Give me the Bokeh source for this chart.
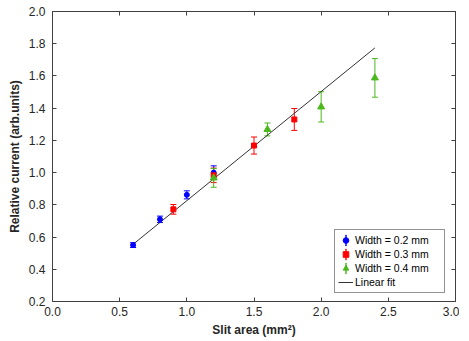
import math
from bokeh.plotting import figure
from bokeh.models import (ColumnDataSource, Whisker, TeeHead, LinearAxis, Legend,
                          LegendItem, Range1d, FixedTicker, PrintfTickFormatter,
                          CustomJSTickFormatter)
from bokeh.embed import file_html
from bokeh.resources import INLINE

# Data
x_w02 = [0.6, 0.8, 1.0, 1.2]
y_w02 = [0.550, 0.710, 0.862, 1.000]
e_w02 = [0.015, 0.020, 0.025, 0.042]

x_w03 = [0.9, 1.2, 1.5, 1.8]
y_w03 = [0.772, 0.983, 1.168, 1.330]
e_w03 = [0.030, 0.045, 0.053, 0.068]

x_w04 = [1.2, 1.6, 2.0, 2.4]
y_w04 = [0.967, 1.268, 1.408, 1.588]
e_w04 = [0.058, 0.040, 0.094, 0.120]

fit_x = [0.6, 2.4]
fit_y = [0.555, 1.774]

x_ticks = [0.0, 0.5, 1.0, 1.5, 2.0, 2.5, 3.0]
y_ticks = [0.2, 0.4, 0.6, 0.8, 1.0, 1.2, 1.4, 1.6, 1.8, 2.0]

FONT = "Liberation Sans"
BLUE = "#0000ff"
RED = "#ff0000"
GREEN = "#4cb81c"

p = figure(frame_width=403, frame_height=290, output_backend="svg", toolbar_location=None,
           x_range=Range1d(0, 3), y_range=Range1d(0.2, 2.0),
           min_border_left=52, min_border_right=4, min_border_top=11, min_border_bottom=34)
p.xgrid.visible = False
p.ygrid.visible = False
p.outline_line_color = "#404040"
p.outline_line_width = 1
p.background_fill_color = "white"
p.border_fill_color = "white"

def style_axis(ax):
    ax.major_tick_in = 4
    ax.major_tick_out = 0
    ax.minor_tick_line_color = None
    ax.axis_line_color = "#404040"
    ax.major_tick_line_color = "#404040"
    ax.major_label_text_font = FONT
    ax.major_label_text_font_size = "12px"
    ax.major_label_text_color = "#262626"
    ax.axis_label_text_font = FONT
    ax.axis_label_text_font_size = "12px"
    ax.axis_label_text_font_style = "bold"
    ax.axis_label_text_color = "#262626"

p.xaxis.ticker = FixedTicker(ticks=x_ticks)
p.yaxis.ticker = FixedTicker(ticks=y_ticks)
p.xaxis.formatter = PrintfTickFormatter(format="%.1f")
p.yaxis.formatter = PrintfTickFormatter(format="%.1f")
style_axis(p.xaxis[0])
style_axis(p.yaxis[0])
p.xaxis.axis_label = "Slit area (mm²)"
p.yaxis.axis_label = "Relative current (arb.units)"
p.xaxis.major_label_standoff = 5
p.yaxis.major_label_standoff = 7
p.xaxis.axis_label_standoff = 4
p.yaxis.axis_label_standoff = 4

blank = CustomJSTickFormatter(code="return ''")
ax_top = LinearAxis(ticker=FixedTicker(ticks=x_ticks), formatter=blank)
style_axis(ax_top)
ax_top.major_label_text_font_size = "1px"
ax_top.major_label_standoff = 0
p.add_layout(ax_top, "above")
ax_right = LinearAxis(ticker=FixedTicker(ticks=y_ticks), formatter=blank)
style_axis(ax_right)
ax_right.major_label_text_font_size = "1px"
ax_right.major_label_standoff = 0
p.add_layout(ax_right, "right")

# Linear fit
fit_r = p.line(fit_x, fit_y, line_color="#333333", line_width=1)

def series(xs, ys, es, color, marker, size):
    src = ColumnDataSource(dict(x=xs, y=ys,
                                lo=[a - b for a, b in zip(ys, es)],
                                hi=[a + b for a, b in zip(ys, es)]))
    w = Whisker(source=src, base="x", lower="lo", upper="hi",
                line_color=color, line_width=1,
                upper_head=TeeHead(size=6, line_color=color, line_width=1),
                lower_head=TeeHead(size=6, line_color=color, line_width=1))
    p.add_layout(w)
    r = p.scatter("x", "y", source=src, marker=marker, size=size,
                  fill_color=color, line_color=color)
    # legend-only proxy (thin vertical ellipse = error bar), placed far outside the visible range
    bar = p.ellipse(x=[-5.0], y=[-5.0], width=0.3, height=60,
                    width_units="screen", height_units="screen",
                    fill_color=None, line_color=color, line_width=1)
    return [bar, r]

r1 = series(x_w02, y_w02, e_w02, BLUE, "circle", 5)
r2 = series(x_w03, y_w03, e_w03, RED, "square", 5)
r3 = series(x_w04, y_w04, e_w04, GREEN, "triangle", 7)

legend = Legend(items=[
    LegendItem(label="Width = 0.2 mm", renderers=r1),
    LegendItem(label="Width = 0.3 mm", renderers=r2),
    LegendItem(label="Width = 0.4 mm", renderers=r3),
    LegendItem(label="Linear fit", renderers=[fit_r]),
], location=(282, 8))
legend.label_text_font = FONT
legend.label_text_font_size = "10.5px"
legend.label_text_color = "#000000"
legend.glyph_width = 15
legend.glyph_height = 14
legend.label_height = 14
legend.label_width = 86
legend.label_standoff = 2
legend.spacing = 0
legend.padding = 3
legend.margin = 0
legend.border_line_color = "#262626"
legend.border_line_width = 1
legend.background_fill_alpha = 1
p.add_layout(legend)

open("out.html", "w").write(file_html(p, INLINE))
